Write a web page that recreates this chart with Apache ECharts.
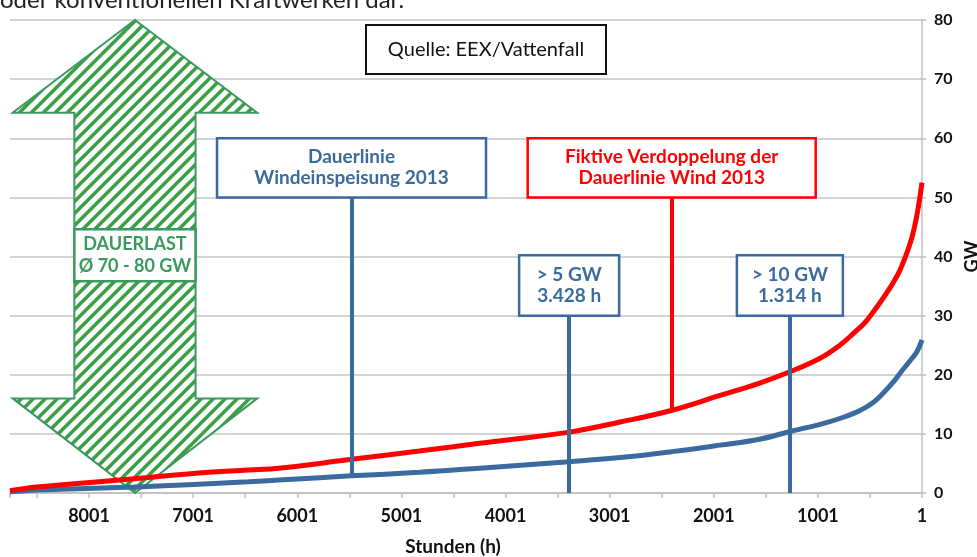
<!DOCTYPE html>
<html>
<head>
<meta charset="utf-8">
<script src="https://cdn.jsdelivr.net/npm/echarts@6/dist/echarts.min.js"></script>
<style>
  html, body { margin: 0; padding: 0; background: #fff; }
  #chart { width: 977px; height: 557px; }
</style>
</head>
<body>
<div id="chart"></div>
<script>
// Stunden (h), sorted by descending hours -> duration curve
const hours = [8760, 8500, 7570, 6950, 6470, 6180, 5480, 4830, 4250, 3390, 2900, 2400, 1940, 1560, 1270, 980, 790, 640, 550, 470, 400, 280, 210, 110, 50, 1]
const wind2013 = [0.2, 0.5, 1.0, 1.5, 1.9, 2.2, 2.9, 3.5, 4.2, 5.3, 6.0, 7.0, 8.1, 9.1, 10.4, 11.6, 12.6, 13.6, 14.4, 15.3, 16.4, 18.7, 20.3, 22.5, 23.9, 25.9]
const windDoubled = [0.4, 1.0, 2.4, 3.4, 3.9, 4.2, 5.7, 7.1, 8.4, 10.3, 12.0, 14.0, 16.5, 18.6, 20.5, 22.8, 25.0, 27.3, 28.8, 30.6, 32.3, 35.5, 37.8, 42.5, 47.0, 52.5]
const xLabelHours = [1, 1001, 2001, 3001, 4001, 5001, 6001, 7001, 8001]

const BLUE = '#3A6A9E'
const RED = '#FF0000'
const GREEN = '#3A9A5E'
const FONT = 'Lato, "Open Sans", sans-serif'

// arrow "Dauerlast" in data units (hours / GW)
const arrow = { hour: 7560, head: 1174, shaft: 582, topBase: 64.3, bottomBase: 16, top: 80, bottom: 0 }

// callout boxes with pointer lines
const notes = [
  { text: 'Dauerlinie\nWindeinspeisung 2013', hour: 5480, top: 60, bottom: 50, to: 2.9, color: BLUE, width: 269 },
  { text: 'Fiktive Verdoppelung der\nDauerlinie Wind 2013', hour: 2405, top: 60, bottom: 50, to: 14.0, color: RED, width: 288 },
  { text: '> 5 GW\n3.428 h', hour: 3390, top: 40.2, bottom: 30, to: 0, color: BLUE, width: 100 },
  { text: '> 10 GW\n1.314 h', hour: 1270, top: 40.2, bottom: 30, to: 0, color: BLUE, width: 106 }
]

const hatch = (() => {
  const c = document.createElement('canvas')
  c.width = c.height = 12
  const g = c.getContext('2d')
  g.fillStyle = '#fff'
  g.fillRect(0, 0, 12, 12)
  g.strokeStyle = '#3E9E48'
  g.lineWidth = 3.6
  g.beginPath()
  g.moveTo(-6, 18); g.lineTo(18, -6)
  g.moveTo(-6, 6); g.lineTo(6, -6)
  g.moveTo(6, 18); g.lineTo(18, 6)
  g.stroke()
  return c
})()

const chart = echarts.init(document.getElementById('chart'))

const option = {
  backgroundColor: '#fff',
  animation: false,
  grid: { left: 10, right: 55, top: 20, bottom: 64, containLabel: false, outerBoundsMode: 'none' },
  xAxis: {
    type: 'value',
    inverse: true,
    min: 1,
    max: 8760,
    interval: 500,
    name: 'Stunden (h)',
    nameLocation: 'middle',
    nameGap: 44,
    nameTextStyle: { fontFamily: FONT, fontWeight: 'bold', fontSize: 19, color: '#111', padding: [0, 26, 0, 0] },
    axisLine: { lineStyle: { color: '#BFBFBF', width: 1.5 } },
    axisTick: { show: true, length: 5, lineStyle: { color: '#BFBFBF', width: 1.5 } },
    axisLabel: {
      margin: 14,
      fontFamily: FONT, fontWeight: 'bold', fontSize: 18, color: '#111',
      formatter: v => xLabelHours.includes(v) ? String(v) : ''
    },
    splitLine: { show: false }
  },
  yAxis: {
    type: 'value',
    position: 'right',
    min: 0,
    max: 80,
    interval: 10,
    name: 'GW',
    nameLocation: 'middle',
    nameRotate: 90,
    nameGap: 36,
    nameTextStyle: { fontFamily: FONT, fontWeight: 'bold', fontSize: 18, color: '#111' },
    axisLine: { show: true, lineStyle: { color: '#BFBFBF', width: 1.5 } },
    axisTick: { show: true, length: 4, lineStyle: { color: '#BFBFBF', width: 1.5 } },
    axisLabel: { margin: 12, fontFamily: FONT, fontWeight: 'bold', fontSize: 16, color: '#111' },
    splitLine: { lineStyle: { color: '#C4C4C4', width: 1.5 } }
  },
  series: [
    {
      type: 'custom',
      z: 1,
      silent: true,
      data: [[arrow.hour]],
      renderItem: (params, api) => {
        const a = arrow
        const pts = [
          [a.hour, a.top],
          [a.hour + a.head, a.topBase],
          [a.hour + a.shaft, a.topBase],
          [a.hour + a.shaft, a.bottomBase],
          [a.hour + a.head, a.bottomBase],
          [a.hour, a.bottom],
          [a.hour - a.head, a.bottomBase],
          [a.hour - a.shaft, a.bottomBase],
          [a.hour - a.shaft, a.topBase],
          [a.hour - a.head, a.topBase]
        ].map(p => api.coord(p))
        return {
          type: 'polygon',
          shape: { points: pts },
          style: { fill: { image: hatch, repeat: 'repeat' }, stroke: GREEN, lineWidth: 2 }
        }
      }
    },
    {
      name: 'Dauerlinie Windeinspeisung 2013',
      type: 'line',
      z: 3,
      smooth: 0.4,
      showSymbol: false,
      lineStyle: { color: BLUE, width: 5 },
      data: hours.map((h, i) => [h, wind2013[i]])
    },
    {
      name: 'Fiktive Verdoppelung der Dauerlinie Wind 2013',
      type: 'line',
      z: 4,
      smooth: 0.4,
      showSymbol: false,
      lineStyle: { color: RED, width: 5 },
      data: hours.map((h, i) => [h, windDoubled[i]]),
      markLine: {
        silent: true,
        symbol: 'none',
        label: { show: false },
        data: notes.map(n => [
          { coord: [n.hour, n.bottom], lineStyle: { color: n.color, width: 4, type: 'solid' } },
          { coord: [n.hour, n.to] }
        ])
      }
    }
  ]
}

chart.setOption(option)

const placeGraphics = () => {
  const px = (h, v) => chart.convertToPixel({ gridIndex: 0 }, [h, v])
  const els = []

  els.push({
    type: 'text', z: 20, x: 0, y: 12,
    style: { text: 'oder konventionellen Kraftwerken dar.', font: '24px ' + FONT, fill: '#222', verticalAlign: 'bottom' }
  })

  els.push({
    type: 'rect', z: 20, shape: { x: 366, y: 25, width: 240, height: 49 },
    style: { fill: '#fff', stroke: '#111', lineWidth: 2 }
  })
  els.push({
    type: 'text', z: 21, x: 486, y: 50,
    style: { text: 'Quelle: EEX/Vattenfall', font: '20px ' + FONT, fill: '#111', align: 'center', verticalAlign: 'middle' }
  })

  const [ax, ay] = px(arrow.hour, 40.2)
  const [sl] = px(arrow.hour + arrow.shaft, 0)
  const [sr] = px(arrow.hour - arrow.shaft, 0)
  els.push({
    type: 'rect', z: 20, shape: { x: sl, y: ay - 26, width: sr - sl, height: 52 },
    style: { fill: '#fff', stroke: GREEN, lineWidth: 2.5 }
  })
  els.push({
    type: 'text', z: 21, x: ax, y: ay,
    style: { text: 'DAUERLAST\nØ 70 - 80 GW', font: 'bold 18px ' + FONT, fill: GREEN, align: 'center', verticalAlign: 'middle', lineHeight: 22 }
  })

  notes.forEach(n => {
    const [cx, yTop] = px(n.hour, n.top)
    const yBot = px(n.hour, n.bottom)[1]
    els.push({
      type: 'rect', z: 20,
      shape: { x: cx - n.width / 2, y: yTop, width: n.width, height: yBot - yTop },
      style: { fill: '#fff', stroke: n.color, lineWidth: 2.5 }
    })
    els.push({
      type: 'text', z: 21, x: cx, y: (yTop + yBot) / 2,
      style: { text: n.text, font: 'bold 19px ' + FONT, fill: n.color, align: 'center', verticalAlign: 'middle', lineHeight: 21 }
    })
  })

  chart.setOption({ graphic: { elements: els } })
}

placeGraphics()
</script>
</body>
</html>
